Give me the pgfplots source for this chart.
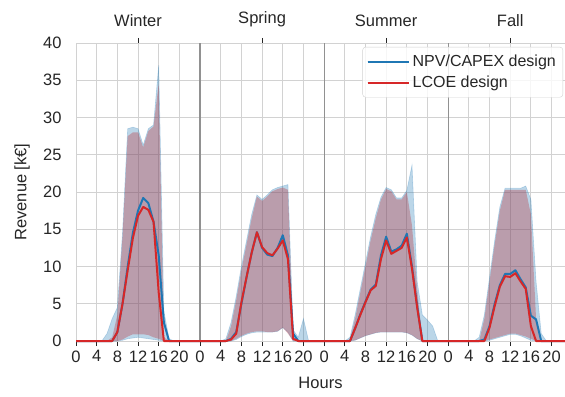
\documentclass[border=0pt]{standalone}
\usepackage{pgfplots}
\usepackage{pgfplotstable}
\pgfplotsset{compat=1.18}
\usepgfplotslibrary{fillbetween}
\usepackage{fontspec}
\setmainfont{Liberation Sans}
\definecolor{c0}{RGB}{31,119,180}
\definecolor{c3}{RGB}{214,39,40}
\definecolor{bandred}{RGB}{185,55,65}
\definecolor{gridc}{RGB}{210,210,210}
\definecolor{sepc}{RGB}{145,145,145}
\definecolor{txt}{RGB}{38,38,38}
\pgfplotstableread{
h b r bu bl ru rl
0 0 0 0 0 0 0
1 0 0 0 0 0 0
2 0 0 0 0 0 0
3 0 0 0 0 0 0
4 0 0 0 0 0 0
5 0 0 0 0 0 0
6 0 0 1.0 0 0 0
7 0 0 3.0 0 0.5 0
8 1.2 1.2 4.5 0 3.5 0
9 5 5 14.5 0.1 14 0.2
10 10 9.5 28.5 0.3 27.5 0.6
11 14.5 13.8 28.7 0.4 28 0.9
12 17.5 16.8 28.5 0.5 28 0.9
13 19.2 18 26.3 0.4 26 0.9
14 18.5 17.6 28.5 0.3 28.2 0.8
15 16 16 29 0.2 28.8 0.5
16 11.5 6.5 37 0.1 34.5 0.3
17 2.5 0 4 0 0.5 0
18 0 0 0.3 0 0 0
19 0 0 0 0 0 0
20 0 0 0 0 0 0
21 0 0 0 0 0 0
22 0 0 0 0 0 0
23 0 0 0 0 0 0
24 0 0 0 0 0 0
25 0 0 0 0 0 0
26 0 0 0 0 0 0
27 0 0 0 0 0 0
28 0 0 0 0 0 0
29 0 0 0.3 0 0 0
30 0.3 0.2 2.5 0 2 0
31 1.2 1 6 0.2 5.5 0.3
32 5 5.2 10 0.6 9.5 0.7
33 8.6 8.6 13.5 0.9 13 1.0
34 11.9 11.9 17 1.1 16.5 1.2
35 14.6 14.6 19.6 1.2 19.4 1.3
36 12.5 12.6 19 1.2 18.8 1.3
37 11.6 11.8 19.6 1.2 19.4 1.2
38 11.4 11.5 20.3 1.2 20.1 1.2
39 12.5 12.4 20.6 1.3 20.4 1.3
40 14.2 13.5 20.8 1.8 20.6 1.8
41 11.5 11 21 1.2 20.3 1.0
42 1 0.3 1.5 0 0.5 0
43 0 0 0.5 0 0 0
44 0 0 3 0 0 0
45 0 0 0 0 0 0
46 0 0 0 0 0 0
47 0 0 0 0 0 0
48 0 0 0 0 0 0
49 0 0 0 0 0 0
50 0 0 0 0 0 0
51 0 0 0 0 0 0
52 0 0 0 0 0 0
53 0 0 0.5 0 0.2 0
54 1.7 1.7 3.5 0.1 3 0.1
55 3.6 3.5 7 0.4 6.5 0.4
56 5.3 5.2 10.5 0.7 10 0.7
57 6.9 6.8 14 0.9 13.5 0.9
58 7.6 7.4 17 1.1 16.5 1.1
59 11.5 11 19.3 1.2 19 1.2
60 14 13.5 20.6 1.2 20.4 1.2
61 12 11.7 20.3 1.2 20.1 1.2
62 12.3 12.1 19.2 1.2 19 1.2
63 12.8 12.5 19.2 1.2 19 1.2
64 14.4 13.9 20.2 1.1 20 1.1
65 10 9.7 23.6 0.8 15.5 0.8
66 4.7 4.5 8 0.3 7 0.3
67 0 0 3.5 0 0 0
68 0 0 2.8 0 0 0
69 0 0 2 0 0 0
70 0 0 0 0 0 0
71 0 0 0 0 0 0
72 0 0 0 0 0 0
73 0 0 0 0 0 0
74 0 0 0 0 0 0
75 0 0 0 0 0 0
76 0 0 0 0 0 0
77 0 0 0 0 0 0
78 0 0 0.5 0 0 0
79 0.2 0 3.5 0 3 0
80 2 1.8 8.5 0.1 8 0.2
81 5 4.7 13.5 0.3 13 0.4
82 7.5 7.3 18 0.5 17.5 0.6
83 9 8.7 20.5 0.7 20.3 0.8
84 9 8.6 20.5 0.9 20.3 1.0
85 9.5 9.1 20.5 0.9 20.3 1.0
86 8.3 8 20.5 0.7 20.3 0.8
87 7.2 7 20.8 0.4 20.3 0.6
88 3.4 2 19 0.1 17 0.3
89 2.9 0 8 0 3 0
90 0 0 1 0 0 0
91 0 0 0 0 0 0
92 0 0 0 0 0 0
93 0 0 0 0 0 0
94 0 0 0 0 0 0
95 0 0 0 0 0 0
}\data
\begin{document}
\begin{tikzpicture}
\pgfplotsset{/pgf/number format/assume math mode=true}
\begin{axis}[
  scale only axis, width=489pt, height=298pt,
  xmin=0, xmax=94.6, ymin=0, ymax=40,
  clip=false,
  xtick={0,4,...,92},
  xticklabels={0,4,8,12,16,20,0,4,8,12,16,20,0,4,8,12,16,20,0,4,8,12,16,20},
  ytick={0,5,...,40},
  grid=major, major grid style={gridc, line width=0.8pt},
  axis line style={gridc, line width=0.8pt},
  xtick pos=bottom, ytick pos=left,
  tick align=outside, major tick length=5pt,
  x tick style={txt, line width=0.8pt},
  y tick style={draw=none},
  ticklabel style={font=\fontsize{16.5}{18}\selectfont, text=txt},
  yticklabel style={xshift=-6pt},
  xticklabel style={yshift=-1pt},
  xlabel={Hours}, ylabel={Revenue [k€]},
  label style={font=\fontsize{16.5}{18}\selectfont, text=txt},
  xlabel style={at={(axis description cs:0.5,-0.141)}, anchor=center},
  ylabel style={at={(axis description cs:-0.110,0.5)}, anchor=center},
  legend style={at={(0.996,0.987)}, anchor=north east, draw=gridc, rounded corners=3pt,
    fill=white, fill opacity=0.8, text opacity=1, font=\fontsize{16}{18}\selectfont,
    text=txt, inner xsep=4pt, inner ysep=6pt, row sep=4pt,
    nodes={inner xsep=3pt, inner ysep=2pt}},
  legend cell align=left,
  legend image code/.code={\draw[#1, line width=2pt] (0pt,0pt) -- (32pt,0pt); \path (0pt,0pt) -- (41pt,0pt);},
]
\coordinate (ll) at (rel axis cs:0,0);
\coordinate (ur) at (rel axis cs:1,1);
\addplot[draw=none, name path=bu, forget plot] table[x=h,y=bu]{\data};
\addplot[draw=none, name path=bl, forget plot] table[x=h,y=bl]{\data};
\addplot[draw=none, name path=ru, forget plot] table[x=h,y=ru]{\data};
\addplot[draw=none, name path=rl, forget plot] table[x=h,y=rl]{\data};
\addplot[fill=c0, fill opacity=0.3, draw=c0, draw opacity=0.25, line width=0.6pt, forget plot] fill between[of=bu and bl];
\addplot[fill=bandred, fill opacity=0.36, draw=none, forget plot] fill between[of=ru and rl];
\draw[sepc, line width=1.2pt] (axis cs:24,0) -- (axis cs:24,40);
\draw[sepc, line width=1.2pt] (axis cs:48,0) -- (axis cs:48,40);
\draw[sepc, line width=1.2pt] (axis cs:72,0) -- (axis cs:72,40);
\addplot[c0, line width=2pt, line join=round] table[x=h,y=b]{\data};
\addlegendentry{NPV/CAPEX design}
\addplot[c3, line width=2pt, line join=round] table[x=h,y=r]{\data};
\addlegendentry{LCOE design}
\end{axis}
\begin{axis}[
  scale only axis, width=489pt, height=298pt,
  xmin=0, xmax=94.6, ymin=0, ymax=40,
  axis x line*=top, axis y line=none,
  axis line style={draw=none},
  xtick={12,36,60,84},
  xticklabels={Winter,Spring,Summer,Fall},
  tick align=outside, major tick length=5pt,
  x tick style={txt, line width=0.8pt},
  ticklabel style={font=\fontsize{16.5}{18}\selectfont, text=txt},
  xticklabel style={yshift=8pt},
]
\addplot[draw=none] coordinates {(0,0)};
\end{axis}
\pgfresetboundingbox
\path[use as bounding box] ([xshift=-76pt,yshift=-55pt]ll) rectangle ([yshift=43pt]ur);
\end{tikzpicture}
\end{document}
